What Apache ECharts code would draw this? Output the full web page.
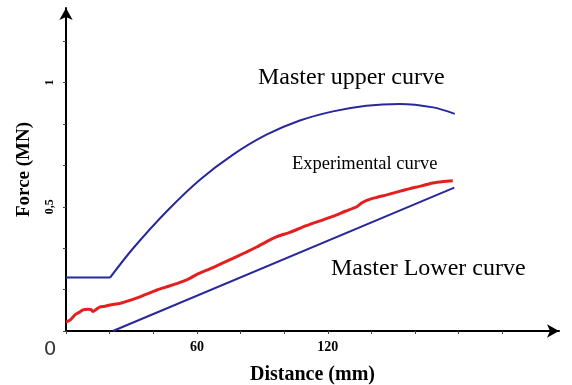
<!DOCTYPE html>
<html>
<head>
<meta charset="utf-8">
<script src="https://cdn.jsdelivr.net/npm/echarts@6/dist/echarts.min.js"></script>
<style>
  html, body { margin: 0; padding: 0; background: #ffffff; }
  #chart { width: 572px; height: 385px; }
</style>
</head>
<body>
<div id="chart"></div>
<script>
// Press force against ram travel: master envelope curves and measured curve
const upperX = [0, 20.2, 30.8, 46.1, 61.4, 76.6, 91.9, 107.2, 122.4, 137.7, 153, 168.3, 178.2];
const upperY = [0.215, 0.215, 0.333, 0.481, 0.609, 0.71, 0.79, 0.847, 0.884, 0.907, 0.914, 0.9, 0.874];

const lowerX = [21.5, 178];
const lowerY = [0, 0.577];

const expX = [0, 2, 4.1, 6, 7.8, 10, 11.5, 12.4, 14, 15.6, 18, 20.2, 25, 30.7, 36, 41.7, 47, 53.6, 57, 60,
  66, 71, 76.5, 82, 87.5, 92, 96.7, 102.6, 109, 115.4, 122.3, 128, 133.3, 135.5, 137.9, 142, 147, 152,
  157.6, 163, 168.1, 173, 177.3];
const expY = [0.036, 0.045, 0.065, 0.075, 0.085, 0.088, 0.086, 0.078, 0.088, 0.097, 0.1, 0.105, 0.112,
  0.127, 0.145, 0.165, 0.18, 0.2, 0.213, 0.228, 0.25, 0.27, 0.292, 0.315, 0.338, 0.36, 0.38, 0.397,
  0.42, 0.44, 0.461, 0.482, 0.5, 0.515, 0.526, 0.537, 0.548, 0.56, 0.573, 0.584, 0.596, 0.602, 0.605];

const xTicks = [0, 20, 40, 60, 80, 100, 120, 140, 160, 180, 200];
const xTickLabels = [0, 60, 120];
const yTicks = [0, 1 / 6, 2 / 6, 3 / 6, 4 / 6, 5 / 6, 1, 7 / 6];
const yTickLabels = [0.5, 1];

const pairs = (xs, ys) => xs.map((x, i) => [x, ys[i]]);
const upper = pairs(upperX, upperY);

const serif = '"Liberation Serif", "DejaVu Serif", serif';
const blue = '#28289a';
const red = '#e3201f';

const chart = echarts.init(document.getElementById('chart'), null, { renderer: 'canvas' });

chart.setOption({
  animation: false,
  backgroundColor: '#ffffff',
  grid: { left: 66, right: 13, top: 8, bottom: 54, containLabel: false, outerBoundsMode: 'none' },
  xAxis: {
    type: 'value',
    min: 0,
    max: 226,
    interval: 20,
    name: 'Distance (mm)',
    nameLocation: 'middle',
    nameGap: 23,
    nameTextStyle: { fontFamily: serif, fontWeight: 'bold', fontSize: 20, color: '#000' },
    splitLine: { show: false },
    axisLine: {
      show: true,
      symbol: ['none', 'arrow'],
      symbolSize: [10, 12],
      lineStyle: { color: '#000', width: 2 }
    },
    axisTick: { show: true, customValues: xTicks, length: 3, lineStyle: { color: '#444', width: 1 } },
    axisLabel: {
      customValues: xTickLabels,
      margin: 9,
      fontFamily: serif,
      fontWeight: 'bold',
      fontSize: 14,
      color: '#000',
      formatter: v => (v === 0 ? '{z|0}' : String(v)),
      rich: {
        z: {
          fontFamily: '"DejaVu Sans", sans-serif',
          fontWeight: 'normal',
          fontSize: 20,
          color: '#3a3a3a',
          padding: [0, 32, 0, 0]
        }
      }
    }
  },
  yAxis: {
    type: 'value',
    min: 0,
    max: 1.3,
    name: 'Force (MN)',
    nameLocation: 'middle',
    nameGap: 32,
    nameTextStyle: { fontFamily: serif, fontWeight: 'bold', fontSize: 19, color: '#000' },
    splitLine: { show: false },
    axisLine: {
      show: true,
      symbol: ['none', 'arrow'],
      symbolSize: [10, 12],
      lineStyle: { color: '#000', width: 2 }
    },
    axisTick: { show: true, customValues: yTicks, length: 3, lineStyle: { color: '#444', width: 1 } },
    axisLabel: {
      customValues: yTickLabels,
      rotate: 90,
      margin: 10,
      fontFamily: serif,
      fontWeight: 'bold',
      fontSize: 12,
      color: '#000',
      formatter: v => (Math.abs(v - 0.5) < 1e-9 ? '0,5' : '1')
    }
  },
  graphic: [
    {
      type: 'text', left: 258, top: 66,
      style: { text: 'Master upper curve', fontFamily: serif, fontSize: 24, fill: '#000' }
    },
    {
      type: 'text', left: 292, top: 155,
      style: { text: 'Experimental curve', fontFamily: serif, fontSize: 18.5, fill: '#000' }
    },
    {
      type: 'text', left: 331, top: 257,
      style: { text: 'Master Lower curve', fontFamily: serif, fontSize: 24, fill: '#000' }
    }
  ],
  series: [
    {
      // flat start of the upper envelope
      name: 'Master upper curve',
      type: 'line',
      data: upper.slice(0, 2),
      showSymbol: false,
      lineStyle: { color: blue, width: 2 },
      z: 3
    },
    {
      // rising, rounded part of the upper envelope
      name: 'Master upper curve',
      type: 'line',
      data: upper.slice(1),
      showSymbol: false,
      smooth: 0.3,
      lineStyle: { color: blue, width: 2 },
      z: 3
    },
    {
      name: 'Master Lower curve',
      type: 'line',
      data: pairs(lowerX, lowerY),
      showSymbol: false,
      lineStyle: { color: blue, width: 2 },
      z: 3
    },
    {
      name: 'Experimental curve',
      type: 'line',
      data: pairs(expX, expY),
      showSymbol: false,
      smooth: 0.2,
      lineStyle: { color: red, width: 3 },
      z: 4
    }
  ]
});
</script>
</body>
</html>
